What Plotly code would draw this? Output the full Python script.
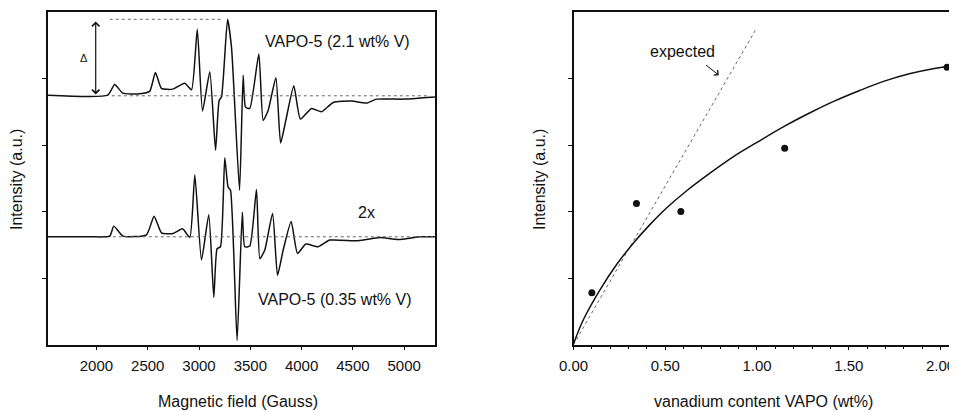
import plotly.graph_objects as go

# --- left panel: EPR spectra (field in Gauss, intensity in arbitrary units) ---
field_top = [1528, 2110, 2178, 2256, 2422, 2520, 2575, 2634, 2744, 2861, 2927, 2983, 3034,
             3105, 3161, 3196, 3219, 3278, 3317, 3395, 3430, 3453, 3495, 3583, 3625, 3674,
             3749, 3795, 3846, 3924, 3988, 4097, 4194, 4308, 4487, 4633, 4731, 4990, 5185, 5299]
int_top = [3.75, 3.75, 3.91, 3.78, 3.77, 3.81, 4.09, 3.85, 3.84, 3.93, 3.83, 4.74, 3.51,
           4.10, 2.92, 3.67, 3.72, 4.89, 4.46, 2.32, 4.05, 3.57, 3.55, 4.37, 3.37, 3.52,
           4.01, 3.03, 3.37, 3.89, 3.39, 3.55, 3.50, 3.64, 3.66, 3.63, 3.69, 3.69, 3.71, 3.72]

field_bot = [1528, 1935, 2130, 2169, 2259, 2488, 2562, 2634, 2747, 2839, 2910, 2959, 3024,
             3095, 3144, 3176, 3209, 3251, 3283, 3307, 3371, 3422, 3446, 3495, 3560, 3593,
             3641, 3717, 3765, 3820, 3898, 3960, 4041, 4161, 4275, 4536, 4633, 4763, 4942,
             5153, 5299]
int_bot = [1.62, 1.62, 1.63, 1.78, 1.63, 1.65, 1.93, 1.68, 1.67, 1.74, 1.61, 2.55, 1.27,
           1.95, 0.71, 1.44, 1.47, 2.81, 2.37, 2.32, 0.06, 1.99, 1.47, 1.48, 2.33, 1.29,
           1.42, 1.97, 1.04, 1.42, 1.85, 1.37, 1.51, 1.47, 1.57, 1.56, 1.58, 1.61, 1.58,
           1.62, 1.62]

delta_line_x = [2130, 3210]
delta_line_y = [4.89, 4.89]
base_top_x = [2150, 5250]
base_top_y = [3.74, 3.74]
base_bot_x = [2160, 5280]
base_bot_y = [1.62, 1.62]

# --- right panel: intensity vs vanadium content ---
v_content = [0.10, 0.343, 0.585, 1.151, 2.036]
v_intensity = [0.78, 2.12, 2.00, 2.95, 4.17]

fit_x = [0.0, 0.055, 0.146, 0.237, 0.328, 0.419, 0.51, 0.62, 0.74, 0.874, 1.0, 1.148,
         1.30, 1.421, 1.56, 1.694, 1.83, 1.967, 2.095]
fit_y = [0.01, 0.38, 0.83, 1.21, 1.53, 1.81, 2.06, 2.32, 2.57, 2.83, 3.04, 3.28,
         3.50, 3.66, 3.82, 3.96, 4.07, 4.15, 4.20]

expected_x = [0.0, 0.99]
expected_y = [0.0, 4.72]

FONT = "Liberation Sans, Arial, sans-serif"
INK = "#111111"

# the page body keeps its default 8px margin, so lay out in page pixels minus that
PAD = 8
W, H = 957 - PAD, 412 - PAD


def px(x):
    return (x - PAD) / W


def py(y):
    return 1 - (y - PAD) / H


fig = go.Figure()

fig.add_trace(go.Scatter(x=field_top, y=int_top, mode="lines", xaxis="x", yaxis="y",
                         line=dict(color=INK, width=1.5, shape="spline", smoothing=0.5)))
fig.add_trace(go.Scatter(x=field_bot, y=int_bot, mode="lines", xaxis="x", yaxis="y",
                         line=dict(color=INK, width=1.5, shape="spline", smoothing=0.5)))
for lx, ly in [(delta_line_x, delta_line_y), (base_top_x, base_top_y), (base_bot_x, base_bot_y)]:
    fig.add_trace(go.Scatter(x=lx, y=ly, mode="lines", xaxis="x", yaxis="y",
                             line=dict(color="#666", width=1, dash="dot")))

fig.add_trace(go.Scatter(x=expected_x, y=expected_y, mode="lines", xaxis="x2", yaxis="y2",
                         line=dict(color="#666", width=1, dash="dot")))
fig.add_trace(go.Scatter(x=fit_x, y=fit_y, mode="lines", xaxis="x2", yaxis="y2",
                         line=dict(color=INK, width=1.5, shape="spline", smoothing=1.0)))
fig.add_trace(go.Scatter(x=v_content, y=v_intensity, mode="markers", xaxis="x2", yaxis="y2",
                         marker=dict(color=INK, size=7), cliponaxis=False))

axis_common = dict(showline=True, linecolor=INK, linewidth=1.5, mirror=True,
                   ticks="outside", ticklen=4, tickcolor=INK, showgrid=False,
                   zeroline=False, automargin=False,
                   tickfont=dict(family=FONT, size=15, color=INK))

fig.update_layout(
    width=W, height=H,
    margin=dict(l=0, r=0, t=0, b=0, autoexpand=False),
    paper_bgcolor="white", plot_bgcolor="white",
    showlegend=False,
    font=dict(family=FONT, color=INK),
    xaxis=dict(domain=[px(48), px(435)], range=[1528, 5300],
               tickvals=[2000, 2500, 3000, 3500, 4000, 4500, 5000],
               ticklabelstandoff=3, anchor="y", **axis_common),
    yaxis=dict(domain=[py(344.5), py(12)], range=[0, 5],
               tickvals=[1, 2, 3, 4], showticklabels=False, anchor="x", **axis_common),
    xaxis2=dict(domain=[px(573.5), 1.0], range=[0, 2.09],
                tickvals=[0, 0.5, 1, 1.5, 2], tickformat=".2f",
                minor=dict(dtick=0.1, ticks="outside", ticklen=3, tickcolor=INK),
                ticklabelstandoff=3, anchor="y2", **axis_common),
    yaxis2=dict(domain=[py(344.5), py(12)], range=[0, 5],
                tickvals=[1, 2, 3, 4], showticklabels=False, anchor="x2", **axis_common),
)

text_font = dict(family=FONT, size=16, color=INK)
mid = dict(showarrow=False, xanchor="center", yanchor="middle", font=text_font)
annotations = [
    dict(x=4354, y=4.55, xref="x", yref="y", text="VAPO-5 (2.1 wt% V)", **mid),
    dict(x=4330, y=0.68, xref="x", yref="y", text="VAPO-5 (0.35 wt% V)", **mid),
    dict(x=4636, y=1.99, xref="x", yref="y", text="2x", **mid),
    dict(x=1880, y=4.31, xref="x", yref="y", text="Δ", showarrow=False,
         xanchor="center", yanchor="middle", font=dict(family=FONT, size=11, color=INK)),
    dict(x=1993, y=3.76, ax=1993, ay=4.88, xref="x", yref="y", axref="x", ayref="y",
         text="", showarrow=True, arrowhead=4, arrowside="end+start", arrowsize=1.2,
         arrowwidth=1.2, arrowcolor=INK),
    dict(x=0.594, y=4.40, xref="x2", yref="y2", text="expected", **mid),
    dict(x=0.792, y=4.05, ax=0.714, ay=4.22, xref="x2", yref="y2", axref="x2", ayref="y2",
         text="", showarrow=True, arrowhead=4, arrowsize=1.2, arrowwidth=1, arrowcolor=INK),
    dict(x=px(238), y=py(401), xref="paper", yref="paper", text="Magnetic field (Gauss)", **mid),
    dict(x=px(763), y=py(401), xref="paper", yref="paper", text="vanadium content VAPO (wt%)", **mid),
    dict(x=px(17), y=py(180), xref="paper", yref="paper", text="Intensity (a.u.)",
         textangle=-90, **mid),
    dict(x=px(540), y=py(180), xref="paper", yref="paper", text="Intensity (a.u.)",
         textangle=-90, **mid),
]
fig.update_layout(annotations=annotations)

fig.write_html("out.html")
